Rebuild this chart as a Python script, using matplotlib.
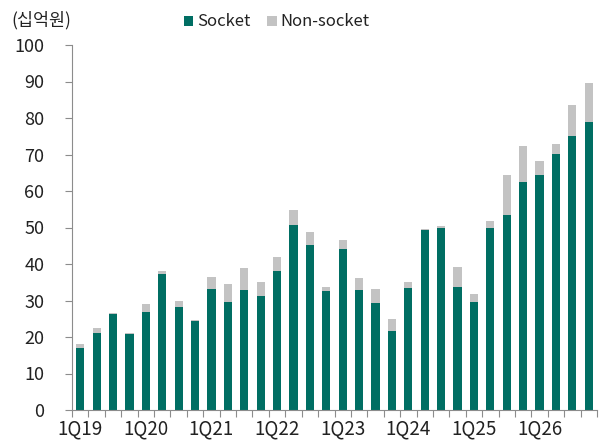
import matplotlib
matplotlib.use("Agg")
import matplotlib.pyplot as plt
import numpy as np

plt.rcParams['font.family'] = ['Noto Sans CJK KR', 'DejaVu Sans']

quarters = [f"{q}Q{y}" for y in range(19, 27) for q in range(1, 5)]
socket = [17.0, 21.0, 26.3, 20.7, 26.8, 37.2, 28.2, 24.5,
          33.2, 29.6, 32.9, 31.2, 38.0, 50.7, 45.2, 32.7,
          44.1, 32.9, 29.3, 21.7, 33.5, 49.2, 49.8, 33.8,
          29.7, 49.9, 53.4, 62.4, 64.3, 70.1, 75.1, 78.9]
total = [18.0, 22.5, 26.5, 21.0, 29.0, 38.0, 30.0, 24.7,
         36.5, 34.4, 38.8, 35.0, 41.8, 54.7, 48.9, 33.7,
         46.5, 36.1, 33.1, 25.0, 35.2, 49.7, 50.5, 39.3,
         31.7, 51.7, 64.5, 72.3, 68.3, 73.0, 83.5, 89.7]
non_socket = [t - s for t, s in zip(total, socket)]
yticks = list(range(0, 101, 10))

teal = '#006E63'
grey = '#C3C3C3'
txt = '#222222'
axc = '#8C8C8C'

fig = plt.figure(figsize=(6.03, 4.41), dpi=100)
ax = fig.add_axes([72/603, 31/441, 525/603, 365/441])

x = np.arange(len(quarters))
ax.bar(x, socket, width=0.5, color=teal, label='Socket', zorder=2)
ax.bar(x, non_socket, bottom=socket, width=0.5, color=grey, label='Non-socket', zorder=2)

ax.set_xlim(-0.5, len(quarters) - 0.5)
ax.set_ylim(0, 100)
ax.set_yticks(yticks)
ax.set_yticklabels([str(v) for v in yticks], fontsize=13, color=txt)

ax.set_xticks(x[::4])
ax.set_xticklabels(quarters[::4], fontsize=13.5, color=txt)
ax.tick_params(axis='x', which='major', length=0, pad=6)
ax.set_xticks(np.arange(-0.5, len(quarters), 1.0), minor=True)
ax.tick_params(axis='x', which='minor', length=5, color=axc, width=0.8)
ax.tick_params(axis='y', length=5, color=axc, width=0.8, pad=15)

for s in ['top', 'right']:
    ax.spines[s].set_visible(False)
for s in ['left', 'bottom']:
    ax.spines[s].set_color(axc)
    ax.spines[s].set_linewidth(0.8)

fig.text(11/603, 1 - 20/441, '(십억원)', fontsize=12.5, color=txt, va='center', ha='left')

leg = fig.legend(loc='center', bbox_to_anchor=(277/603, 1 - 22/441), ncol=2, frameon=False,
                 fontsize=12, handlelength=0.55, handleheight=0.55, handletextpad=0.25,
                 columnspacing=1.0)
for t in leg.get_texts():
    t.set_color(txt)

fig.savefig('out.png', dpi=100)
